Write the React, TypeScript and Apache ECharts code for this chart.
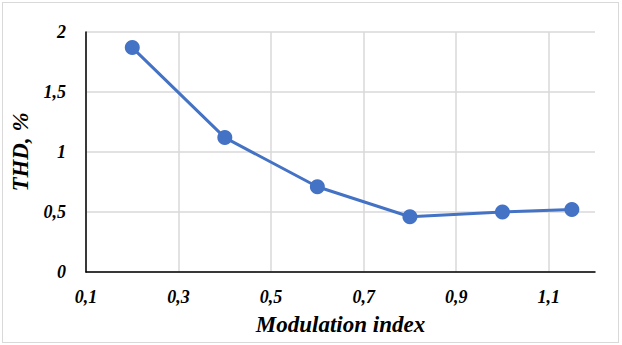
import React, { useEffect, useRef } from "react";
import * as echarts from "echarts";

const modulationIndex = [0.2, 0.4, 0.6, 0.8, 1.0, 1.15];
const thdPercent = [1.87, 1.12, 0.71, 0.46, 0.5, 0.52];
const xAxisName = "Modulation index";
const yAxisName = "THD, %";

const FONT = "Liberation Serif";

const textFont = {
  fontFamily: FONT,
  fontStyle: "italic",
  fontWeight: "bold",
  color: "#000",
};

export default function App() {
  const ref = useRef<HTMLDivElement>(null);
  useEffect(() => {
    document.body.style.margin = "0";
    const chart = echarts.init(ref.current!, null, { renderer: "svg" });
    chart.setOption({
      animation: false,
      backgroundColor: "#ffffff",
      textStyle: { fontFamily: FONT },
      grid: { left: 86, right: 27, top: 32, bottom: 73, containLabel: false },
      xAxis: {
        type: "value",
        min: 0.1,
        max: 1.2,
        interval: 0.1,
        name: xAxisName,
        nameLocation: "middle",
        nameGap: 41,
        nameTextStyle: { ...textFont, fontSize: 23 },
        axisLine: { show: true, lineStyle: { color: "#000", width: 1.5 } },
        axisTick: { show: false },
        axisLabel: {
          ...textFont,
          margin: 16,
          fontSize: 18,
          formatter: (v: number) => {
            const k = Math.round(v * 10);
            return k % 2 === 1 ? (k / 10).toFixed(1).replace(".", ",") : "";
          },
        },
        splitLine: {
          show: true,
          lineStyle: { color: ["#d9d9d9", "rgba(0,0,0,0)"], width: 1.5 },
        },
      },
      yAxis: {
        type: "value",
        min: 0,
        max: 2,
        interval: 0.5,
        name: yAxisName,
        nameLocation: "middle",
        nameGap: 54,
        nameRotate: 90,
        nameTextStyle: { ...textFont, fontSize: 23 },
        axisLine: { show: true, lineStyle: { color: "#000", width: 1.5 } },
        axisTick: { show: false },
        axisLabel: {
          ...textFont,
          margin: 20,
          fontSize: 18,
          formatter: (v: number) => String(v).replace(".", ","),
        },
        splitLine: { show: true, lineStyle: { color: "#d9d9d9", width: 1.5 } },
      },
      series: [
        {
          type: "line",
          data: modulationIndex.map((x, i) => [x, thdPercent[i]]),
          symbol: "circle",
          symbolSize: 15,
          lineStyle: { color: "#4472c4", width: 3 },
          itemStyle: { color: "#4472c4" },
        },
      ],
    });
    return () => chart.dispose();
  }, []);
  return (
    <div
      style={{
        position: "absolute",
        left: 0,
        top: 0,
        width: 622,
        height: 345,
        background: "#fff",
      }}
    >
      <div ref={ref} style={{ position: "absolute", left: 0, top: 0, width: 622, height: 345 }} />
      <div
        style={{
          position: "absolute",
          left: 2,
          top: 2,
          width: 617,
          height: 341,
          border: "1.5px solid #d9d9d9",
          boxSizing: "border-box",
          pointerEvents: "none",
        }}
      />
    </div>
  );
}
